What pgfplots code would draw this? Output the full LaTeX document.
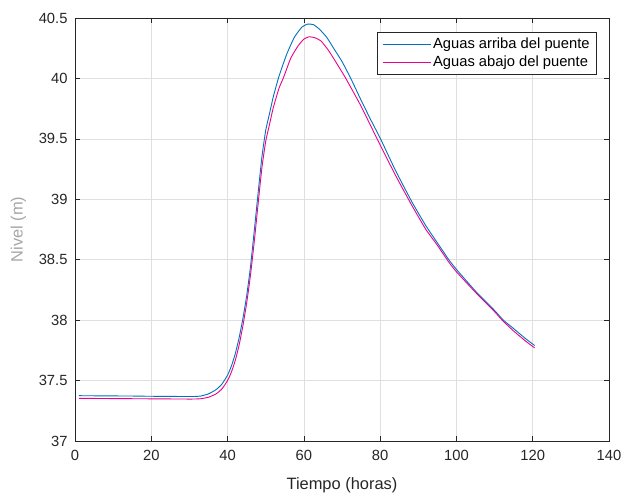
\documentclass[border=0pt]{standalone}
\usepackage{fontspec}
\setmainfont{Liberation Sans}
\usepackage{pgfplots}
\pgfplotsset{compat=1.18}
\definecolor{mblue}{rgb}{0,0.447,0.741}
\definecolor{axgray}{rgb}{0.15,0.15,0.15}
\definecolor{gridgray}{RGB}{223,223,223}
\begin{document}
\begin{tikzpicture}
\path[use as bounding box] (-75bp,-53bp) rectangle (548bp,441bp);
\begin{axis}[
  scale only axis,
  width=534bp, height=423bp,
  xmin=0, xmax=140, ymin=37, ymax=40.5,
  xtick={0,20,...,140},
  ytick={37,37.5,38,38.5,39,39.5,40,40.5},
  yticklabels={37,37.5,38,38.5,39,39.5,40,40.5},
  /pgf/number format/assume math mode=true,
  tick label style={font=\fontsize{14.8}{16}\selectfont, text=axgray},
  xticklabel style={yshift=-6bp},
  yticklabel style={xshift=-4bp},
  label style={font=\fontsize{16.5}{18}\selectfont, text=axgray},
  xlabel={Tiempo (horas)},
  ylabel={\color{gray!70}Nivel (m)},
  xlabel style={yshift=-10bp},
  ylabel style={yshift=6bp},
  grid=major,
  major grid style={gridgray, line width=0.6bp},
  axis line style={axgray, line width=0.7bp},
  tick style={axgray, line width=0.7bp},
  tick align=inside,
  major tick length=5bp,
  xtick pos=both, ytick pos=both,
  legend style={at={(0.9775,0.9676)}, anchor=north east, draw=axgray, line width=0.7bp,
    font=\fontsize{14.8}{16}\selectfont, inner xsep=5bp, inner ysep=4bp, row sep=2bp},
  legend cell align=left,
  legend image code/.code={\draw[#1] (0bp,0bp) -- (48bp,0bp);},
]
\addplot[mblue, line width=0.9bp, smooth, tension=0.3] coordinates {
(1,37.375) (5,37.374) (10,37.373) (15,37.372) (20,37.370) (25,37.369) (30,37.368)
(32,37.369) (33,37.372) (35,37.39) (37,37.425) (38.5,37.47) (40,37.545) (41,37.62)
(42,37.72) (43,37.85) (44,38.01) (45,38.2) (46,38.44) (47,38.74) (48,39.05) (49,39.35)
(50,39.57) (51,39.71) (52,39.85) (53.5,40.02) (55.5,40.2) (57.5,40.34) (59.5,40.425)
(61,40.45) (62.5,40.445) (64,40.41)
(66,40.34) (68,40.24) (70,40.14) (72.3,40.0) (75,39.82) (77.5,39.66) (80.1,39.5)
(84,39.24) (88.3,38.98) (92,38.78) (95,38.64) (98,38.5) (100,38.42) (105,38.24)
(110,38.08) (112.3,38.0) (115,37.93) (118,37.85) (120.5,37.79)
};
\addlegendentry{Aguas arriba del puente}
\addplot[magenta, line width=0.9bp, smooth, tension=0.3] coordinates {
(1,37.353) (10,37.351) (20,37.349) (30,37.347) (32,37.348) (33,37.35)
(35,37.362) (37,37.39) (38.5,37.43) (40,37.50) (41,37.57) (42,37.665) (43,37.79)
(44,37.95) (45,38.14) (46,38.37) (47,38.65) (48,38.96) (49,39.26) (50,39.48)
(51,39.62) (52,39.76) (53.5,39.92) (54.7,40.01) (56.6,40.17) (58.5,40.27) (60,40.325)
(61.4,40.345) (63,40.335) (64.5,40.31) (66.5,40.23) (68.5,40.13)
(71,40.0) (75,39.77) (79.2,39.5) (84,39.2) (88.3,38.95) (92,38.75) (95,38.62) (98,38.48)
(100,38.40) (105,38.23) (110,38.07) (112.3,37.99) (115,37.91) (118,37.83) (120.5,37.77)
};
\addlegendentry{Aguas abajo del puente}
\end{axis}
\end{tikzpicture}
\end{document}
